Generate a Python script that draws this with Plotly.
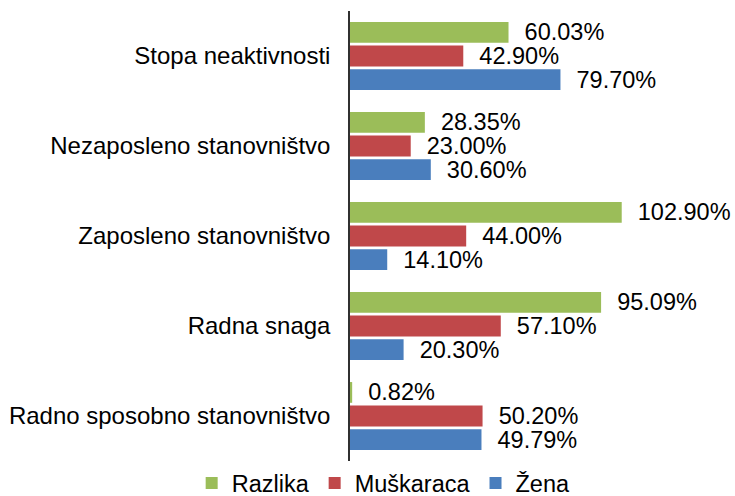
import plotly.graph_objects as go

categories = ["Radno sposobno stanovništvo", "Radna snaga", "Zaposleno stanovništvo",
              "Nezaposleno stanovništvo", "Stopa neaktivnosti"]
zena = [49.79, 20.30, 14.10, 30.60, 79.70]
muskaraca = [50.20, 57.10, 44.00, 23.00, 42.90]
razlika = [0.82, 95.09, 102.90, 28.35, 60.03]

series = [("Žena", zena, "#4a7ebd"), ("Muškaraca", muskaraca, "#c0484a"), ("Razlika", razlika, "#9bbd59")]

FONT = "Liberation Sans, Arial, sans-serif"
fig = go.Figure()
for name, vals, col in series:
    fig.add_trace(go.Bar(
        name=name, y=categories, x=vals, orientation="h",
        marker=dict(color=col, line=dict(width=0)),
        text=[f"\u00a0\u00a0{v:.2f}%" for v in vals],
        textposition="outside", constraintext="none", cliponaxis=False,
        textfont=dict(family=FONT, size=23.5, color="#000000"),
    ))

fig.update_layout(
    width=735, height=496,
    margin=dict(l=350, r=0, t=11, b=35),
    paper_bgcolor="white", plot_bgcolor="white",
    barmode="group", bargap=0.214, bargroupgap=0.12,
    font=dict(family=FONT, size=23.5, color="#000000"),
    showlegend=True,
    legend=dict(orientation="h", traceorder="reversed",
                xref="container", yref="container",
                x=0.522, xanchor="center", y=0.026, yanchor="middle",
                font=dict(family=FONT, size=23.5, color="#000000"),
                bgcolor="rgba(0,0,0,0)"),
    xaxis=dict(range=[0, 145.8], visible=False, showgrid=False, zeroline=False),
    yaxis=dict(showline=True, linecolor="#303030", linewidth=1.5, ticks="",
               ticklabelstandoff=13, showgrid=False, zeroline=False,
               tickfont=dict(family=FONT, size=24, color="#000000")),
)

fig.write_html("out.html", config={"displayModeBar": False},
               post_script="document.body.style.margin='0px';document.body.style.overflow='hidden';")
